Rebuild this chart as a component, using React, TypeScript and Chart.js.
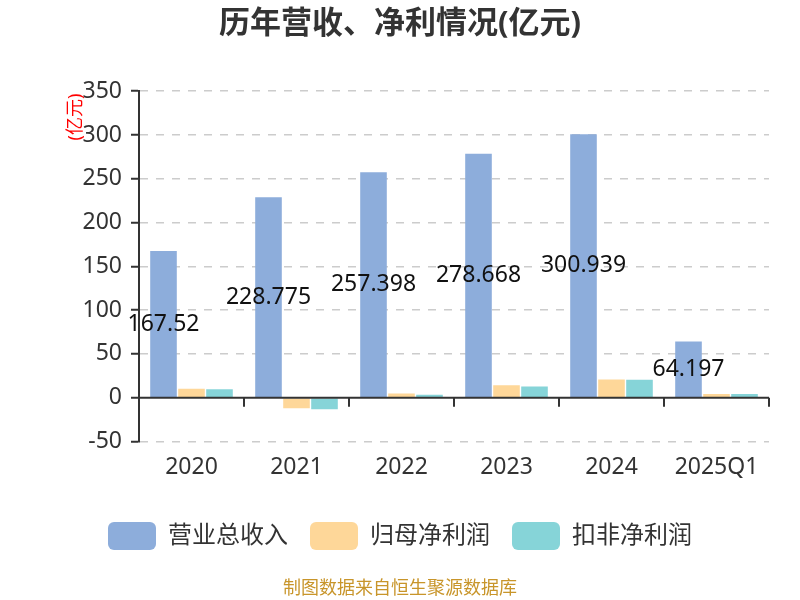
import { useEffect, useRef } from 'react';
import { Chart, registerables } from 'chart.js';

Chart.register(...registerables);

const categories = ['2020', '2021', '2022', '2023', '2024', '2025Q1'];
const revenue = [167.52, 228.775, 257.398, 278.668, 300.939, 64.197];
const netProfit = [10.0, -12.0, 4.6, 14.1, 20.7, 4.2];
const deductedProfit = [9.6, -13.2, 3.4, 12.6, 20.3, 4.0];
const seriesNames = ['营业总收入', '归母净利润', '扣非净利润'];
const yTicks = { min: -50, max: 350, step: 50 };

const FONT = '"Noto Sans", "Noto Sans CJK SC", sans-serif';

const overlay = {
  id: 'overlay',
  afterDatasetsDraw(chart: any) {
    const { ctx, chartArea, scales } = chart;
    const x = scales.x;
    const y = scales.y;
    const y0 = y.getPixelForValue(0);
    ctx.save();

    // zero line with category ticks
    ctx.strokeStyle = '#333';
    ctx.lineWidth = 2;
    ctx.beginPath();
    ctx.moveTo(chartArea.left, y0);
    ctx.lineTo(chartArea.right, y0);
    ctx.stroke();
    for (let i = 0; i < categories.length; i++) {
      const px = Math.round(x.getPixelForValue(i + 0.5));
      ctx.beginPath();
      ctx.moveTo(px, y0);
      ctx.lineTo(px, y0 + 9);
      ctx.stroke();
    }

    // value labels on revenue bars
    const meta = chart.getDatasetMeta(0);
    ctx.fillStyle = '#111';
    ctx.font = `23px ${FONT}`;
    ctx.textAlign = 'center';
    ctx.textBaseline = 'middle';
    meta.data.forEach((bar: any, i: number) => {
      ctx.fillText(String(revenue[i]), bar.x, y.getPixelForValue(revenue[i] / 2));
    });

    // y axis unit
    ctx.save();
    ctx.translate(76, 117);
    ctx.rotate(-Math.PI / 2);
    ctx.fillStyle = '#ff0000';
    ctx.font = `18px ${FONT}`;
    ctx.fillText('(亿元)', 0, 0);
    ctx.restore();

    // source note
    ctx.fillStyle = '#c8952a';
    ctx.font = `18px ${FONT}`;
    ctx.fillText('制图数据来自恒生聚源数据库', chart.width / 2, 589);
    ctx.restore();
  },
};

const App = () => {
  const canvasRef = useRef<HTMLCanvasElement | null>(null);
  const chartRef = useRef<Chart | null>(null);

  useEffect(() => {
    if (!canvasRef.current) return;
    if (chartRef.current) chartRef.current.destroy();

    chartRef.current = new Chart(canvasRef.current, {
      type: 'bar',
      data: {
        labels: categories,
        datasets: [
          { label: seriesNames[0], data: revenue, backgroundColor: '#8daddb' },
          { label: seriesNames[1], data: netProfit, backgroundColor: '#fed799' },
          { label: seriesNames[2], data: deductedProfit, backgroundColor: '#86d4d8' },
        ],
      },
      options: {
        animation: false,
        responsive: false,
        maintainAspectRatio: false,
        devicePixelRatio: 1,
        datasets: { bar: { categoryPercentage: 0.8, barPercentage: 0.95 } },
        layout: { padding: { left: 31, right: 31, top: 0, bottom: 40 } },
        plugins: {
          tooltip: { enabled: false },
          title: {
            display: true,
            text: '历年营收、净利情况(亿元)',
            color: '#333',
            font: { family: FONT, size: 31, weight: 'bold' },
            padding: { top: 6, bottom: 48 },
          },
          legend: {
            position: 'bottom',
            labels: {
              boxWidth: 48,
              boxHeight: 28,
              useBorderRadius: true,
              borderRadius: 6,
              padding: 22,
              color: '#333',
              font: { family: FONT, size: 24 },
            },
          },
        },
        scales: {
          x: {
            afterFit: (s: any) => {
              s.height += 7;
            },
            grid: { display: false, drawTicks: false },
            border: { display: false },
            ticks: { color: '#333', font: { family: FONT, size: 23 }, padding: 12 },
          },
          y: {
            min: yTicks.min,
            max: yTicks.max,
            afterFit: (s: any) => {
              s.width = 108;
            },
            ticks: {
              stepSize: yTicks.step,
              color: '#333',
              padding: 9,
              font: { family: FONT, size: 23 },
            },
            grid: {
              color: (c: any) => (c.tick && c.tick.value === 0 ? 'rgba(0,0,0,0)' : '#cccccc'),
              lineWidth: 1.5,
              tickColor: '#333',
              tickLength: 8,
              tickWidth: 2,
              tickBorderDash: [],
            },
            border: { display: true, color: '#333', width: 2, dash: [8, 8] },
          },
        },
      },
      plugins: [overlay],
    });

    return () => {
      if (chartRef.current) {
        chartRef.current.destroy();
        chartRef.current = null;
      }
    };
  }, []);

  return (
    <div style={{ position: 'absolute', left: 0, top: 0, width: 800, height: 600, background: '#fff' }}>
      <canvas ref={canvasRef} width={800} height={600} />
    </div>
  );
};

export default App;
